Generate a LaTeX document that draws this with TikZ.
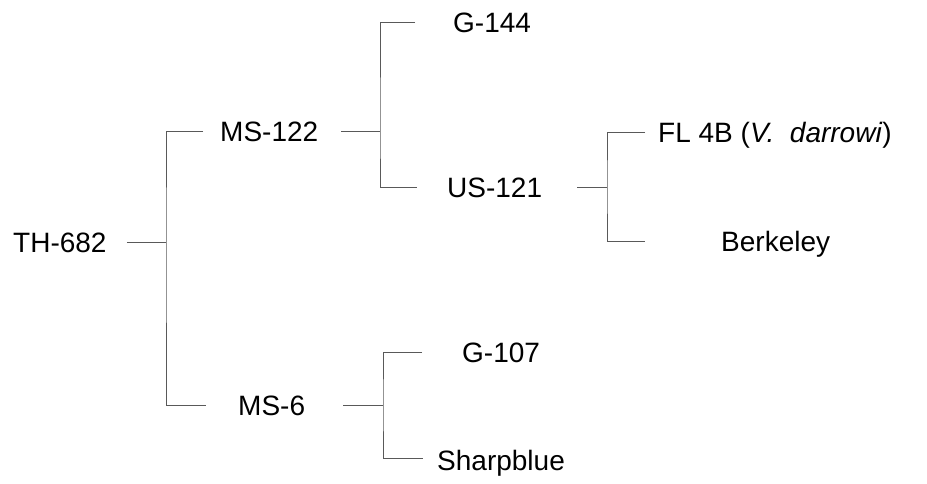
\documentclass[tikz,border=0pt]{standalone}
\usepackage{fontspec}
\setmainfont{Liberation Sans}
\usepackage{tikz}
\usepackage{xcolor}

\begin{document}
\begin{tikzpicture}[x=1pt,y=-1pt,
  lbl/.style={anchor=west,inner sep=0pt,text height=20pt,text depth=0pt,font=\fontsize{28}{34}\selectfont},
  branch/.style={draw=black!65,line width=0.9pt}]
\useasboundingbox (0,0) rectangle (927,483);
\node[lbl] (th) at (13,242) {TH-682};
\node[lbl] (ms122) at (220,131) {MS-122};
\node[lbl] (ms6) at (238,405) {MS-6};
\node[lbl] (g144) at (453,22) {G-144};
\node[lbl] (us121) at (447,187) {US-121};
\node[lbl] (g107) at (462,352) {G-107};
\node[lbl] (sharp) at (437,460) {Sharpblue};
\node[lbl] (fl4b) at (658,132) {FL 4B (\textit{V.\ \ darrowi})};
\node[lbl] (berk) at (721,241) {Berkeley};
\coordinate (j1) at (166,242);
\coordinate (j2) at (380,131);
\coordinate (j3) at (607,187);
\coordinate (j4) at (383,405);
\draw[branch] ([xshift=20pt]th.east) -- (j1);
\draw[branch] ([xshift=-17pt]ms122.west) -| (j1) |- ([xshift=-32pt]ms6.west);
\draw[branch] ([xshift=23pt]ms122.east) -- (j2);
\draw[branch] ([xshift=-38pt]g144.west) -| (j2) |- ([xshift=-30pt]us121.west);
\draw[branch] ([xshift=35pt]us121.east) -- (j3);
\draw[branch] ([xshift=-13pt]fl4b.west) -| (j3) |- ([xshift=-76pt]berk.west);
\draw[branch] ([xshift=38pt]ms6.east) -- (j4);
\draw[branch] ([xshift=-40pt]g107.west) -| (j4) |- ([xshift=-14pt,yshift=2pt]sharp.west);
\end{tikzpicture}
\end{document}
